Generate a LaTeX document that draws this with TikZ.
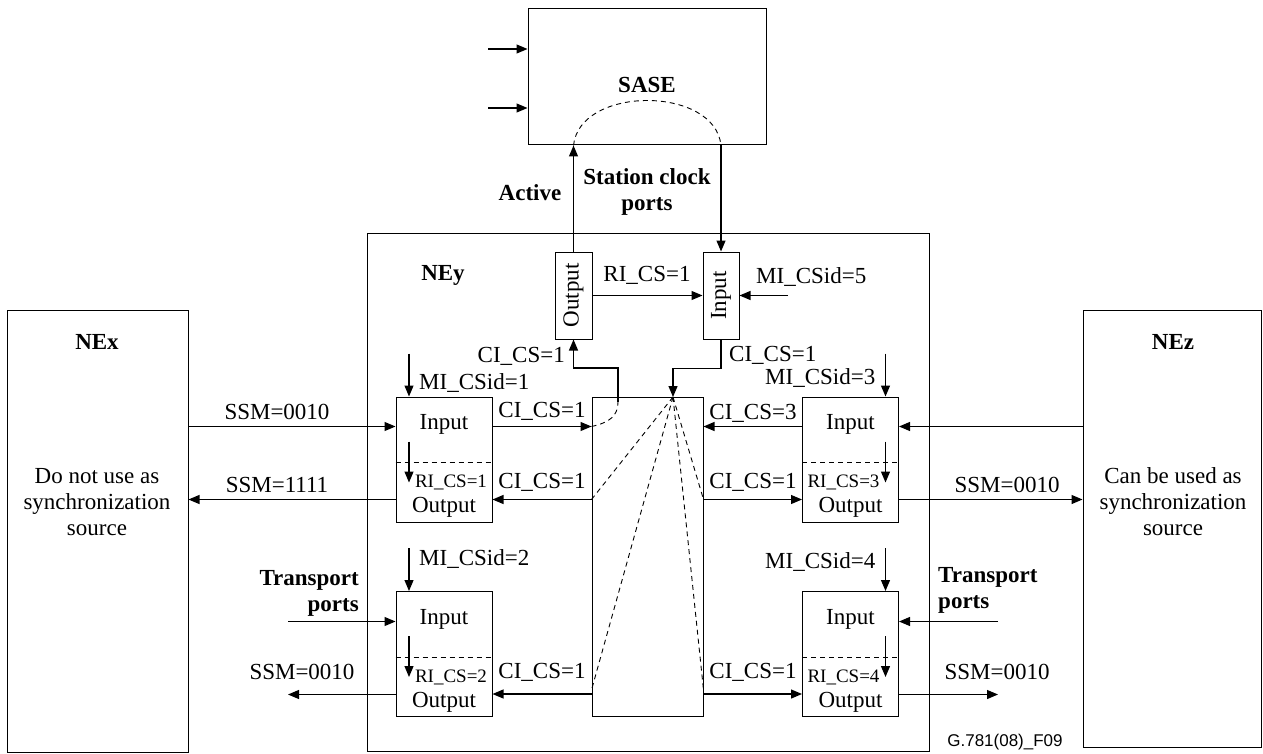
\documentclass[tikz,border=0pt]{standalone}
\usepackage{fontspec}
\setmainfont{Liberation Serif}
\setsansfont{Liberation Sans}
\usepackage{tikz}
\usetikzlibrary{positioning,arrows.meta,calc}

\begin{document}
\begin{tikzpicture}[
  x=1pt, y=-1pt,
  font=\fontsize{23}{26}\selectfont,
  box/.style={draw, line width=1pt, inner sep=0pt},
  port/.style={box, minimum width=96, minimum height=125},
  lbl/.style={inner sep=1pt, align=center},
  head/.style={lbl, font=\fontsize{23}{26}\selectfont\bfseries},
  small/.style={lbl, font=\fontsize{19}{22}\selectfont},
  arrow/.style={-{Triangle[length=11pt,width=9pt]}, line width=1.2pt},
  dashline/.style={dash pattern=on 5pt off 4pt, line width=0.9pt},
]
\useasboundingbox (0,0) rectangle (1263,754);

% network elements
\node[box, minimum width=238, minimum height=136] (sase) at (647,77) {};
\node[head] (saselbl) at (647,85) {SASE};
\node[box, minimum width=562, minimum height=518] (ney) at (648,492) {};
\node[head] (neylbl) at (443,275) {NEy};
\node[box, minimum width=181, minimum height=442] (nex) at (97.5,531) {};
\node[head] (nexlbl) at (97,342) {NEx};
\node[lbl] (nextxt) at (97,502) {Do not use as\\synchronization\\source};
\node[box, minimum width=178, minimum height=437] (nez) at (1172,528.5) {};
\node[head] (nezlbl) at (1173,342) {NEz};
\node[lbl] (neztxt) at (1173,502) {Can be used as\\synchronization\\source};

% station clock ports and selector
\node[box, minimum width=37, minimum height=87] (outp) at (573.5,295.5) {\rotatebox{90}{Output}};
\node[box, minimum width=36, minimum height=87] (inp) at (721,295.5) {\rotatebox{90}{Input}};
\node[box, minimum width=111, minimum height=319] (xc) at (647.5,556.5) {};

% transport ports
\foreach \n/\x/\y/\k/\s/\m/\a in {p1/444/459.5/1/-1/-13/west, p2/444/654/2/-1/-32/west,
                                  p3/850.5/459.5/3/1/-18/east, p4/850.5/654/4/1/-29/east} {
  \node[port] (\n) at (\x,\y) {};
  \node[lbl] (\n-i) at ($(\n.north)+(0,28)$) {Input};
  \draw[dashline] ($(\n.north west)+(0,66)$) -- ($(\n.north east)+(0,66)$);
  \node[small] (\n-r) at ($(\n.north)+({-7*\s},86)$) {RI\_CS=\k};
  \node[lbl] (\n-o) at ($(\n.north)+(0,111)$) {Output};
  \draw[arrow] ($(\n.north)+({35*\s},45)$) -- ++(0,41);
  \coordinate (\n-m) at ($(\n.north)+({35*\s},-43)$);
  \draw[arrow] (\n-m) -- (\n-m |- \n.north);
  \node[lbl, anchor=\a] (\n-ml) at ($(\n-m)+({-9*\s},{43+\m})$) {MI\_CSid=\k};
  \coordinate (\n-a) at ($(\n.north)+(0,30)$);
  \coordinate (\n-b) at ($(\n.north)+(0,103)$);
}

% SASE inputs
\coordinate (s1) at (488,49);
\coordinate (s2) at (488,108);
\draw[arrow] (s1) -- (s1 -| sase.west);
\draw[arrow] (s2) -- (s2 -| sase.west);

% station clock connections
\draw[arrow] (outp.north) -- (outp.north |- sase.south);
\draw[arrow] (inp.north |- sase.south) -- (inp.north);
\draw[dashline] (outp.north |- sase.south) .. controls ($(outp.north |- sase.south)+(6,-60)$)
  and ($(inp.north |- sase.south)+(-6,-60)$) .. (inp.north |- sase.south);
\node[head] (actlbl) at (530,193) {Active};
\node[head] (scplbl) at (647,192) {Station clock\\ports};
\draw[arrow] (outp.east) -- (inp.west);
\node[lbl] (rilbl) at (647,275) {RI\_CS=1};
\coordinate (m5) at (788,295.5);
\draw[arrow] (m5) -- (m5 -| inp.east);
\node[lbl, anchor=west] (m5lbl) at (755,277) {MI\_CSid=5};

\coordinate (apx) at (673,397);
\coordinate (bend) at (618,402);
\draw[arrow] (inp.south) -- ++(0,29) -| (apx);
\node[lbl, anchor=west] (cilbl) at (728,355) {CI\_CS=1};
\draw[arrow] (bend) -- ++(0,-34) -| (outp.south);
\node[lbl, anchor=east] (colbl) at (566,356) {CI\_CS=1};
\draw[dashline] (xc.west |- p1-a) .. controls ($(xc.west |- p1-a)+(18,-4)$) and ($(bend)+(0,14)$) .. (bend);

% selector fan
\draw[dashline] (apx) -- (xc.west |- p1-b);
\draw[dashline] (apx) -- ($(xc.west |- p2-b)+(0,-4)$);
\draw[dashline] (apx) -- (xc.east |- p3-b);
\draw[dashline] (apx) -- ($(xc.east |- p4-b)+(0,-4)$);

% transport signals
\draw[arrow] (nex.east |- p1-a) -- (p1.west |- p1-a);
\node[lbl] (l1) at (277,412) {SSM=0010};
\draw[arrow] (p1.west |- p1-b) -- (nex.east |- p1-b);
\node[lbl] (l2) at (277,485) {SSM=1111};
\draw[arrow] (p1.east |- p1-a) -- (xc.west |- p1-a);
\node[lbl] (l3) at (542,411) {CI\_CS=1};
\draw[arrow] (xc.west |- p1-b) -- (p1.east |- p1-b);
\node[lbl] (l4) at (542,482) {CI\_CS=1};
\draw[arrow] (xc.west |- p2-b) -- (p2.east |- p2-b);
\node[lbl] (l5) at (542,672) {CI\_CS=1};

\draw[arrow] (nez.west |- p3-a) -- (p3.east |- p3-a);
\draw[arrow] (p3.east |- p3-b) -- (nez.west |- p3-b);
\node[lbl] (r2) at (1007,485) {SSM=0010};
\draw[arrow] (p3.west |- p3-a) -- (xc.east |- p3-a);
\node[lbl] (r3) at (753,413) {CI\_CS=3};
\draw[arrow] (xc.east |- p3-b) -- (p3.west |- p3-b);
\node[lbl] (r4) at (753,482) {CI\_CS=1};
\draw[arrow] (xc.east |- p4-b) -- (p4.west |- p4-b);
\node[lbl] (r5) at (753,672) {CI\_CS=1};

\coordinate (lin) at (288,621.5);
\coordinate (lout) at (288,694.5);
\draw[arrow] (lin) -- (lin -| p2.west);
\draw[arrow] (lout -| p2.west) -- (lout);
\node[lbl] (l6) at (302,672) {SSM=0010};
\node[head, anchor=east, align=right] (tpl) at (360,593) {Transport\\ports};

\coordinate (rin) at (998,621.5);
\coordinate (rout) at (998,694.5);
\draw[arrow] (rin) -- (rin -| p4.east);
\draw[arrow] (rout -| p4.east) -- (rout);
\node[lbl] (r6) at (997,672) {SSM=0010};
\node[head, anchor=west, align=left] (tpr) at (937,590) {Transport\\ports};

\node[font=\sffamily\fontsize{17}{20}\selectfont] (fig) at (1005,742) {G.781(08)\_F09};
\end{tikzpicture}
\end{document}
